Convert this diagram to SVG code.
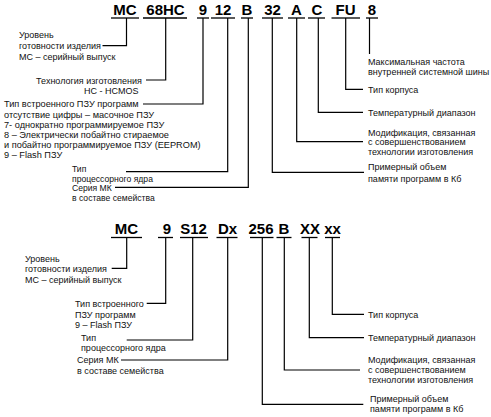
<svg xmlns="http://www.w3.org/2000/svg" width="491" height="417" viewBox="0 0 491 417">
<style>
.c{font-family:"Liberation Sans",Arial,sans-serif;font-weight:bold;font-size:15px;fill:#000;text-anchor:middle}
.t{font-family:"Liberation Sans",Arial,sans-serif;font-size:9px;fill:#111}
.s{font-size:9.2px}
.n{font-size:8.6px}
.e{text-anchor:end}
.u{stroke:#000;stroke-width:1.3;fill:none}
.k{stroke:#000;stroke-width:1.2;fill:none}
</style>
<rect width="491" height="417" fill="#fff"/>
<g id="top-codes">
<g id="c1"><text class="c" x="125" y="15">MC</text><line class="u" x1="111" y1="18" x2="139" y2="18"/></g>
<g id="c2"><text class="c" x="165.5" y="15">68HC</text><line class="u" x1="143" y1="18" x2="187" y2="18"/></g>
<g id="c3"><text class="c" x="203" y="15">9</text><line class="u" x1="197" y1="18" x2="209" y2="18"/></g>
<g id="c4"><text class="c" x="223" y="15">12</text><line class="u" x1="211" y1="18" x2="235" y2="18"/></g>
<g id="c5"><text class="c" x="247" y="15">B</text><line class="u" x1="241" y1="18" x2="253" y2="18"/></g>
<g id="c6"><text class="c" x="272.5" y="15">32</text><line class="u" x1="262" y1="18" x2="283" y2="18"/></g>
<g id="c7"><text class="c" x="296.5" y="15">A</text><line class="u" x1="288" y1="18" x2="305" y2="18"/></g>
<g id="c8"><text class="c" x="317" y="15">C</text><line class="u" x1="308" y1="18" x2="325" y2="18"/></g>
<g id="c9"><text class="c" x="345.5" y="15">FU</text><line class="u" x1="331.5" y1="18" x2="360" y2="18"/></g>
<g id="c10"><text class="c" x="372" y="15">8</text><line class="u" x1="366" y1="18" x2="378" y2="18"/></g>
</g>
<g id="top-labels">
<g id="l1"><text class="t" x="19" y="38">Уровень</text><text class="t" x="19" y="49">готовности изделия</text><text class="t" x="19" y="60.3">МС – серийный выпуск</text></g>
<g id="l2"><text class="t e" x="142" y="83.5">Технология изготовления</text><text class="t" x="84" y="93.7">НС - HCMOS</text></g>
<g id="l3"><text class="t s" x="4" y="107.2">Тип встроенного ПЗУ программ</text>
<text class="t s" x="4" y="117.5">отсутствие цифры – масочное ПЗУ</text>
<text class="t s" x="4" y="127.5">7- однократно программируемое ПЗУ</text>
<text class="t s" x="4" y="137.5">8 – Электрически побайтно стираемое</text>
<text class="t s" x="4" y="147.5">и побайтно программируемое ПЗУ (EEPROM)</text>
<text class="t s" x="4" y="157.5">9 – Flash ПЗУ</text></g>
<g id="l4"><text class="t n" x="72" y="171.5">Тип</text><text class="t n" x="72" y="181.5">процессорного ядра</text></g>
<g id="l5"><text class="t n" x="72" y="191">Серия МК</text><text class="t n" x="72" y="201">в составе семейства</text></g>
<g id="l6"><text class="t" x="368" y="170">Примерный объем</text><text class="t" x="368" y="181.5">памяти программ в Кб</text></g>
<g id="l7"><text class="t" x="368" y="135.5">Модификация, связанная</text><text class="t" x="368" y="145.3">с совершенствованием</text><text class="t" x="368" y="155">технологии изготовления</text></g>
<g id="l8"><text class="t" x="368" y="115.5">Температурный диапазон</text></g>
<g id="l9"><text class="t" x="368" y="92.5">Тип корпуса</text></g>
<g id="l10"><text class="t" x="368" y="64.5">Максимальная частота</text><text class="t" x="368" y="74.5">внутренней системной шины</text></g>
</g>
<g id="bottom-codes">
<g id="d1"><text class="c" x="126.5" y="233.5">MC</text><line class="u" x1="111" y1="237.5" x2="142" y2="237.5"/></g>
<g id="d2"><text class="c" x="167" y="233.5">9</text><line class="u" x1="158" y1="237.5" x2="173" y2="237.5"/></g>
<g id="d3"><text class="c" x="193.5" y="233.5">S12</text><line class="u" x1="180" y1="237.5" x2="208" y2="237.5"/></g>
<g id="d4"><text class="c" x="227.5" y="233.5">Dx</text><line class="u" x1="216.5" y1="237.5" x2="237.5" y2="237.5"/></g>
<g id="d5"><text class="c" x="261" y="233.5">256</text><line class="u" x1="250" y1="237.5" x2="273.5" y2="237.5"/></g>
<g id="d6"><text class="c" x="284" y="233.5">B</text><line class="u" x1="276.5" y1="237.5" x2="291.5" y2="237.5"/></g>
<g id="d7"><text class="c" x="310" y="233.5">XX</text><line class="u" x1="301.5" y1="237.5" x2="317.5" y2="237.5"/></g>
<g id="d8"><text class="c" x="332.5" y="233.5">xx</text><line class="u" x1="325" y1="237.5" x2="340" y2="237.5"/></g>
</g>
<g id="bottom-labels">
<g id="m1"><text class="t" x="25" y="261.5">Уровень</text><text class="t" x="25" y="271.5">готовности изделия</text><text class="t" x="25" y="282.5">МС – серийный выпуск</text></g>
<g id="m2"><text class="t" x="75" y="306.5">Тип встроенного</text><text class="t" x="75" y="317.5">ПЗУ программ</text><text class="t" x="75" y="327.5">9 – Flash ПЗУ</text></g>
<g id="m3"><text class="t" x="81" y="340.5">Тип</text><text class="t" x="81" y="351">процессорного ядра</text></g>
<g id="m4"><text class="t" x="77" y="363.2">Серия МК</text><text class="t" x="77" y="374.2">в составе семейства</text></g>
<g id="m5"><text class="t" x="368" y="317.5">Тип корпуса</text></g>
<g id="m6"><text class="t" x="368" y="341">Температурный диапазон</text></g>
<g id="m7"><text class="t" x="368" y="363.2">Модификация, связанная</text><text class="t" x="368" y="373.2">с совершенствованием</text><text class="t" x="368" y="383.2">технологии изготовления</text></g>
<g id="m8"><text class="t" x="370" y="402">Примерный объем</text><text class="t" x="370" y="411.5">памяти программ в Кб</text></g>
</g>
<g id="connectors">
<polyline class="k" points="126.5,18 126.5,45.7 102.5,45.7"/>
<polyline class="k" points="165.7,18 165.7,80 146,80"/>
<polyline class="k" points="203,18 203,104 143,104"/>
<polyline class="k" points="227.7,18 227.7,171.7 126,171.7"/>
<polyline class="k" points="248.3,18 248.3,187.3 115,187.3"/>
<polyline class="k" points="272.3,18 272.3,172.3 364,172.3"/>
<polyline class="k" points="296.7,18 296.7,141.7 363,141.7"/>
<polyline class="k" points="318.3,18 318.3,112.3 363,112.3"/>
<polyline class="k" points="345.7,18 345.7,89.3 363,89.3"/>
<polyline class="k" points="369.5,18 369.5,54"/>
<polyline class="k" points="126.7,237.5 126.7,268.3 111.7,268.3"/>
<polyline class="k" points="165.7,237.5 165.7,303.3 146.7,303.3"/>
<polyline class="k" points="192.7,237.5 192.7,340 126.7,340"/>
<polyline class="k" points="227.7,237.5 227.7,360 121,360"/>
<polyline class="k" points="262.3,237.5 262.3,404.3 363.3,404.3"/>
<polyline class="k" points="284.3,237.5 284.3,370 360,370"/>
<polyline class="k" points="309.3,237.5 309.3,337.7 364,337.7"/>
<polyline class="k" points="332.3,237.5 332.3,314.3 364,314.3"/>
</g>
</svg>
